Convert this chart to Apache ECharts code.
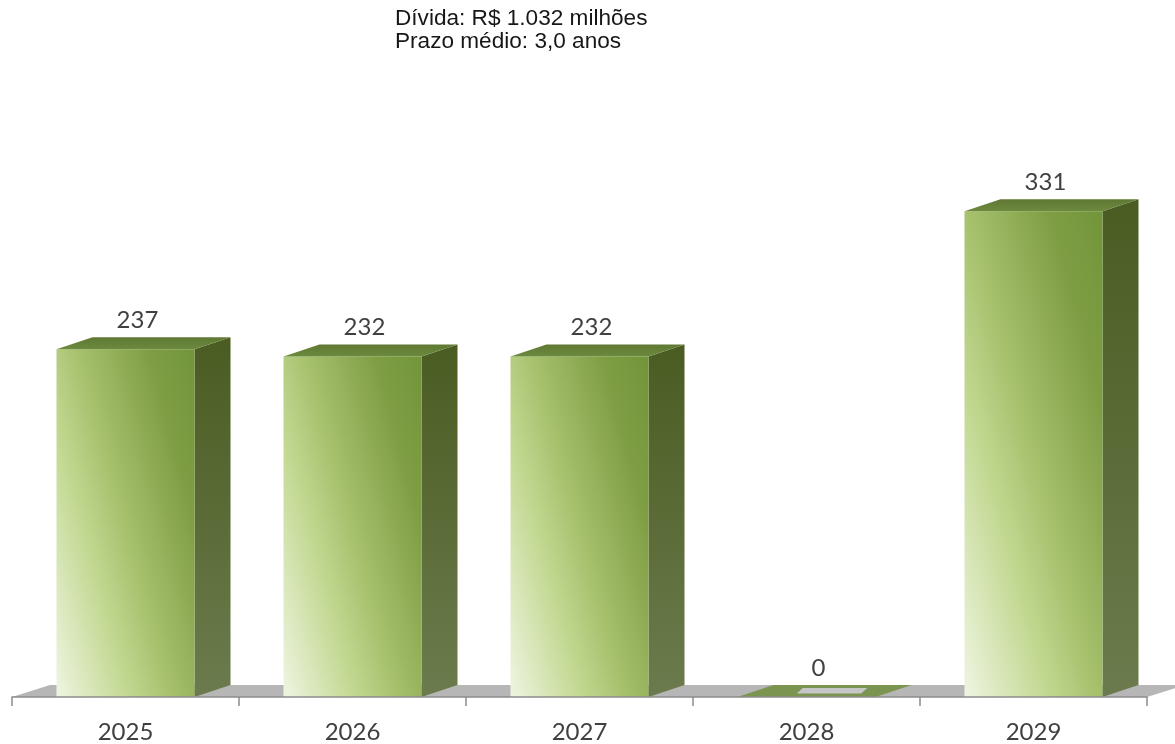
<!DOCTYPE html>
<html>
<head>
<meta charset="utf-8">
<script src="https://cdn.jsdelivr.net/npm/echarts@6/dist/echarts.min.js"></script>
<style>
html,body{margin:0;padding:0;background:#fff;}
#chart{width:1175px;height:744px;}
</style>
</head>
<body>
<div id="chart"></div>
<script>
const categories = ['2025', '2026', '2027', '2028', '2029'];
const values = [237, 232, 232, 0, 331];
const titleLines = ['Dívida: R$ 1.032 milhões', 'Prazo médio: 3,0 anos'];

const chart = echarts.init(document.getElementById('chart'));

const DX = 36, DY = 12;
const GA = 15 * Math.PI / 180; // gradient angle from horizontal

function renderFloor(params, api) {
  const cs = params.coordSys;
  const y0 = cs.y + cs.height;
  const x0 = cs.x, x1 = cs.x + cs.width;
  return {
    type: 'polygon',
    shape: { points: [[x0, y0], [x1, y0], [x1 + DX + 2, y0 - DY], [x0 + DX + 2, y0 - DY]] },
    style: { fill: '#b6b6b6' }
  };
}

function renderBar(params, api) {
  const idx = api.value(0);
  const val = api.value(1);
  const base = api.coord([idx, 0]);
  const topPt = api.coord([idx, val]);
  const bandW = api.size([1, 0])[0];
  const w = bandW * 0.608;
  const cx = base[0];
  const y0 = base[1];
  const top = topPt[1];
  const H = y0 - top;
  const left = cx - w / 2, right = cx + w / 2;
  const children = [];
  if (H > 0.5) {
    const c = Math.cos(GA), s = Math.sin(GA);
    const L = w * c + H * s;
    children.push({
      type: 'polygon',
      shape: { points: [[right, y0], [right + DX, y0 - DY], [right + DX, top - DY], [right, top]] },
      style: {
        fill: new echarts.graphic.LinearGradient(0, 0, 0, 1, [
          { offset: 0, color: '#4a5c22' },
          { offset: 1, color: '#6c7b4d' }
        ])
      }
    });
    children.push({
      type: 'rect',
      shape: { x: left, y: top, width: w, height: H },
      style: {
        fill: new echarts.graphic.LinearGradient(left, y0, left + c * L, y0 - s * L, [
          { offset: 0, color: '#eff5e2' },
          { offset: 0.3, color: '#c3d993' },
          { offset: 0.5, color: '#a6c06c' },
          { offset: 0.8, color: '#7f9e44' },
          { offset: 1, color: '#72953a' }
        ], true)
      }
    });
    children.push({
      type: 'polygon',
      shape: { points: [[left, top], [right, top], [right + DX, top - DY], [left + DX, top - DY]] },
      style: {
        fill: new echarts.graphic.LinearGradient(0, 1, 0, 0, [
          { offset: 0, color: '#6c8a3e' },
          { offset: 1, color: '#5f7833' }
        ])
      }
    });
  } else {
    children.push({
      type: 'polygon',
      shape: { points: [[left, y0], [right, y0], [right + DX, y0 - DY], [left + DX, y0 - DY]] },
      style: { fill: '#7b9450' }
    });
    const il = left + w * 0.4, ir = right - w * 0.06;
    children.push({
      type: 'polygon',
      shape: { points: [[il + 4, y0 - 3.5], [ir - 6, y0 - 3.5], [ir, y0 - 9], [il + 10, y0 - 9]] },
      style: { fill: '#c6c6c6' }
    });
  }
  children.push({
    type: 'text',
    style: {
      text: String(val),
      x: cx + 12,
      y: top - DY - 5,
      align: 'center',
      verticalAlign: 'bottom',
      fontFamily: 'Lato',
      fontSize: 24,
      fill: '#404040'
    }
  });
  return { type: 'group', children: children };
}

chart.setOption({
  animation: false,
  backgroundColor: '#ffffff',
  title: {
    text: titleLines.join('\n'),
    left: 390,
    top: 2,
    textStyle: {
      fontFamily: 'Liberation Sans',
      fontSize: 22.6,
      fontWeight: 'normal',
      color: '#171717',
      lineHeight: 23.5
    }
  },
  grid: { left: 12, right: 28, top: 110, bottom: 47 },
  xAxis: {
    type: 'category',
    data: categories,
    boundaryGap: true,
    axisLine: { show: true, lineStyle: { color: '#8c8c8c', width: 1.5 } },
    axisTick: { show: true, length: 9, lineStyle: { color: '#8c8c8c', width: 1.5 } },
    axisLabel: { fontFamily: 'Lato', fontSize: 24, color: '#404040', margin: 23 },
    z: 10
  },
  yAxis: {
    type: 'value',
    min: 0,
    max: 400,
    show: false,
    splitLine: { show: false }
  },
  series: [
    {
      type: 'custom',
      name: 'floor',
      renderItem: renderFloor,
      data: [[0, 0]],
      z: 1,
      silent: true
    },
    {
      type: 'custom',
      name: 'Dívida',
      renderItem: renderBar,
      encode: { x: 0, y: 1 },
      data: categories.map((c, i) => [i, values[i]]),
      z: 2
    }
  ]
});
</script>
</body>
</html>
